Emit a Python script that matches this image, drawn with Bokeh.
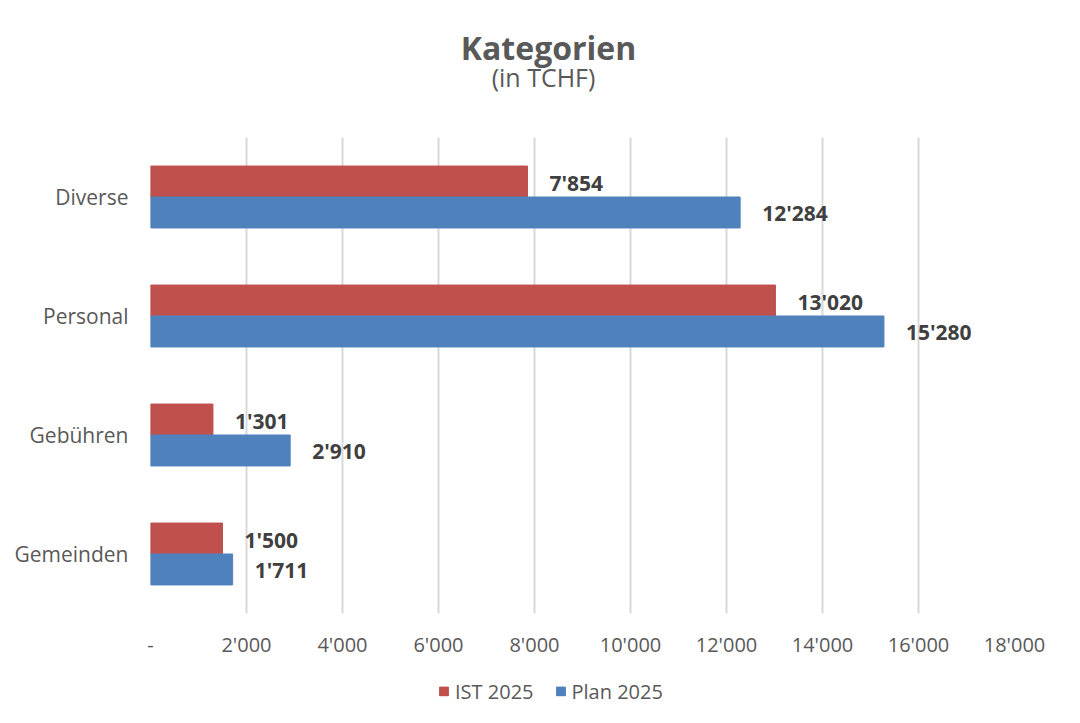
from bokeh.plotting import figure
from bokeh.layouts import column
from bokeh.models import (ColumnDataSource, FactorRange, Range1d, FixedTicker,
                          Legend, LegendItem, LabelSet, Label)
from bokeh.transform import dodge
from bokeh.core.properties import value
from bokeh.embed import file_html
from bokeh.resources import INLINE

# ---- data ----
categories = ["Diverse", "Personal", "Gebühren", "Gemeinden"]
ist_2025 = [7854, 13020, 1301, 1500]
plan_2025 = [12284, 15280, 2910, 1711]
x_ticks = [0, 2000, 4000, 6000, 8000, 10000, 12000, 14000, 16000, 18000]
series_names = ["IST 2025", "Plan 2025"]
title_text = "Kategorien"
subtitle_text = "(in TCHF)"

FONT = "Open Sans"
RED = "#C0504D"
BLUE = "#4F81BD"
GRAY_TXT = "#595959"
W = 1064
H_TITLE, H_MAIN, H_LEG = 100, 575, 32
FRAME_L, FRAME_R = 150, 1014   # frames of stacked plots are aligned by the column


def fmt(v):
    return "-" if v == 0 else f"{v:,}".replace(",", "'")


def bare(fig):
    fig.title.visible = False
    fig.outline_line_color = None
    fig.xgrid.visible = False
    fig.ygrid.visible = False
    fig.border_fill_color = "white"
    return fig


# ---- title strip (x in page pixels) ----
pt = bare(figure(width=W, height=H_TITLE, x_range=Range1d(FRAME_L, FRAME_R),
                 y_range=Range1d(0, H_TITLE),
                 x_axis_location=None, y_axis_location=None,
                 min_border_left=FRAME_L, min_border_right=W - FRAME_R,
                 min_border_top=0, min_border_bottom=0,
                 output_backend="svg", toolbar_location=None))
pt.add_layout(Label(x=548, y=H_TITLE - 47, text=title_text, text_font=FONT,
                    text_font_size="32px", text_font_style="bold", text_color=GRAY_TXT,
                    text_align="center", text_baseline="middle"))
pt.add_layout(Label(x=543, y=H_TITLE - 76, text=subtitle_text, text_font=FONT,
                    text_font_size="25px", text_color=GRAY_TXT,
                    text_align="center", text_baseline="middle"))

# ---- main chart ----
src = ColumnDataSource(dict(
    cat=categories,
    ist=ist_2025,
    plan=plan_2025,
    ist_lbl=[fmt(v) for v in ist_2025],
    plan_lbl=[fmt(v) for v in plan_2025],
))

p = figure(
    width=W, height=H_MAIN,
    y_range=FactorRange(factors=categories[::-1]),
    x_range=Range1d(0, 18000),
    output_backend="svg", toolbar_location=None,
    min_border_left=FRAME_L, min_border_right=W - FRAME_R,
    min_border_top=137 - H_TITLE, min_border_bottom=H_MAIN - (613 - H_TITLE),
)
p.title.visible = False
p.outline_line_color = None
p.background_fill_color = "white"
p.border_fill_color = "white"

p.hbar(y=dodge("cat", 0.13, range=p.y_range), right="ist", left=0,
       height=0.26, source=src, fill_color=RED, line_color=RED)
p.hbar(y=dodge("cat", -0.13, range=p.y_range), right="plan", left=0,
       height=0.26, source=src, fill_color=BLUE, line_color=BLUE)

lbl_style = dict(text_font=value(FONT), text_font_size="21px",
                 text_font_style="bold", text_color="#404040",
                 text_baseline="middle", x_offset=22, y_offset=-1)
p.add_layout(LabelSet(x="ist", y=dodge("cat", 0.13, range=p.y_range),
                      text="ist_lbl", source=src, **lbl_style))
p.add_layout(LabelSet(x="plan", y=dodge("cat", -0.13, range=p.y_range),
                      text="plan_lbl", source=src, **lbl_style))

p.xaxis.ticker = FixedTicker(ticks=x_ticks)
p.xaxis.major_label_overrides = {t: fmt(t) for t in x_ticks}
p.xaxis.axis_line_color = None
p.xaxis.major_tick_line_color = None
p.xaxis.minor_tick_line_color = None
p.xaxis.major_label_text_font = FONT
p.xaxis.major_label_text_font_size = "20px"
p.xaxis.major_label_text_color = GRAY_TXT
p.xaxis.major_label_standoff = 11

p.yaxis.axis_line_color = None
p.yaxis.major_tick_line_color = None
p.yaxis.minor_tick_line_color = None
p.yaxis.major_label_text_font = FONT
p.yaxis.major_label_text_font_size = "21px"
p.yaxis.major_label_text_color = GRAY_TXT
p.yaxis.major_label_standoff = 16

p.xgrid.ticker = FixedTicker(ticks=x_ticks)
p.xgrid.grid_line_color = "#D9D9D9"
p.xgrid.grid_line_width = 2
p.ygrid.grid_line_color = None

# ---- legend strip ----
pl = bare(figure(width=W, height=H_LEG, x_range=Range1d(0, 1), y_range=Range1d(0, 1),
                 x_axis_location=None, y_axis_location=None,
                 min_border_left=FRAME_L, min_border_right=W - FRAME_R,
                 min_border_top=0, min_border_bottom=0,
                 output_backend="svg", toolbar_location=None))
# legend key proxies: one zero-width bar each, outside the visible range
key_src = ColumnDataSource(dict(y=[-5], right=[0]))
k_ist = pl.hbar(y="y", right="right", left=0, height=1, source=key_src,
                fill_color=RED, line_color=RED)
k_plan = pl.hbar(y="y", right="right", left=0, height=1, source=key_src,
                 fill_color=BLUE, line_color=BLUE)
legend = Legend(items=[LegendItem(label=series_names[0], renderers=[k_ist]),
                       LegendItem(label=series_names[1], renderers=[k_plan])],
                orientation="horizontal", location="left",
                padding=0, margin=438 - FRAME_L, spacing=21, label_standoff=6,
                glyph_width=11, glyph_height=11,
                label_text_font=FONT, label_text_font_size="20px",
                label_text_color=GRAY_TXT, border_line_color=None,
                background_fill_alpha=0)
pl.add_layout(legend, "center")

layout = column(pt, p, pl, spacing=0)
open("out.html", "w").write(file_html(layout, INLINE))
